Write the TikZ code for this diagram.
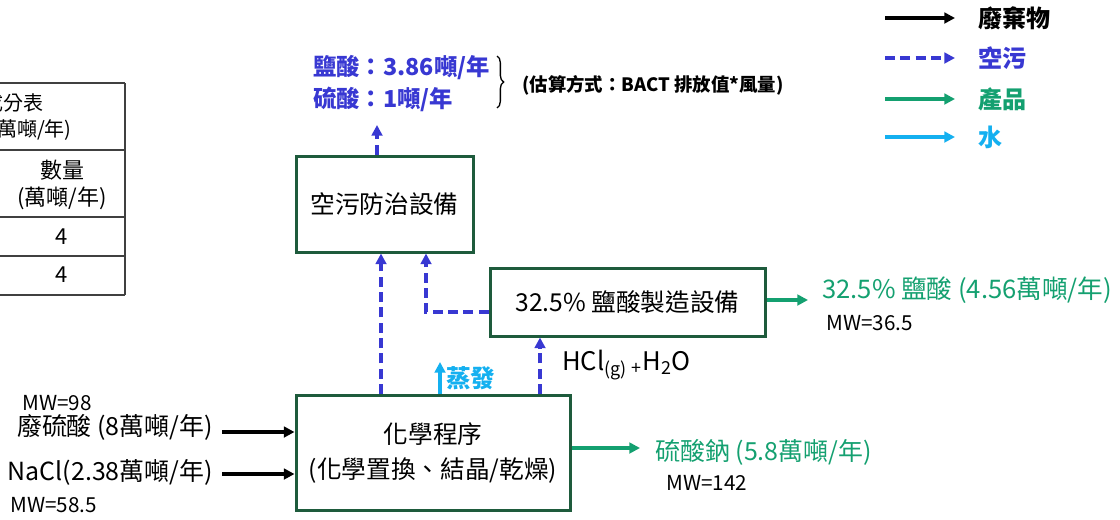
\documentclass[tikz,border=0pt]{standalone}
\usepackage{fontspec}
\setmainfont{Noto Sans CJK TC}
\usetikzlibrary{arrows.meta, positioning, decorations.pathreplacing}
\definecolor{BoxGreen}{HTML}{1E5B3C}
\definecolor{AirBlue}{HTML}{3838D2}
\definecolor{ProductGreen}{HTML}{14A070}
\definecolor{WaterCyan}{HTML}{14B0F0}
\definecolor{TableGray}{HTML}{404040}
\tikzset{
  % Box styles
  unitbox/.style={rectangle, draw=BoxGreen, line width=2.25pt, align=center, font=\fontsize{18.5}{26}\selectfont, inner sep=0pt},
  % Text styles
  flowtext/.style={font=\fontsize{18.7}{22}\selectfont, inner sep=0pt},
  bigflowtext/.style={font=\fontsize{19.2}{22}\selectfont, inner sep=0pt},
  mwtext/.style={font=\fontsize{15.5}{18}\selectfont, inner sep=0pt},
  emistext/.style={font=\fontsize{17.5}{24}\selectfont\bfseries, text=AirBlue, align=left, inner sep=0pt},
  legendtext/.style={font=\fontsize{18}{20}\selectfont\bfseries, anchor=west, inner sep=0pt},
  tabletext/.style={font=\fontsize{16.5}{20}\selectfont, inner sep=0pt},
  % Arrow styles
  wastearrow/.style={->, >={Triangle[length=8pt, width=8pt]}, line width=2.5pt, black},
  airarrow/.style={->, >={Triangle[length=8pt, width=8pt]}, line width=2.5pt, AirBlue, dash pattern=on 7.5pt off 4pt},
  productarrow/.style={wastearrow, ProductGreen},
  waterarrow/.style={wastearrow, WaterCyan}
}

\begin{document}
\begin{tikzpicture}[x=0.75pt, y=-0.75pt]
  \useasboundingbox (0,0) rectangle (1120,519);
  \clip (0,0) rectangle (1120,519);

  % Table (cut off at left)
  \foreach \ty in {83,150,217,256,295}
    \draw[TableGray, line width=1.2pt] (-20,\ty) -- (125,\ty);
  \draw[TableGray, line width=1.2pt] (125,83) -- (125,295);
  \node[tabletext, font=\fontsize{15}{18}\selectfont, anchor=east] (tabtitle) at (44,103) {成分表};
  \node[tabletext, font=\fontsize{15}{18}\selectfont, anchor=east] (tabunit) at (72,130) {(萬噸/年)};
  \node[tabletext, align=center] (tabhead) at (62,185) {數量\\(萬噸/年)};
  \node[tabletext] (tabrow1) at (62,237) {4};
  \node[tabletext] (tabrow2) at (62,275) {4};

  % Process units
  \node[unitbox, minimum width=132.75pt, minimum height=72pt] (airctrl) at (384.5,204) {空污防治設備};
  \node[unitbox, minimum width=206.25pt, minimum height=51pt] (hclplant) at (627.5,302) {32.5\% 鹽酸製造設備};
  \node[unitbox, minimum width=205.5pt, minimum height=86.25pt] (chemproc) at (433,453) {化學程序\\(化學置換、結晶/乾燥)};

  % Inputs
  \node[flowtext, anchor=east] (acidin) at (213,427) {廢硫酸 (8萬噸/年)};
  \node[mwtext, anchor=west] (acidmw) at (22,403) {MW=98};
  \node[flowtext, anchor=east] (saltin) at (213,472) {NaCl(2.38萬噸/年)};
  \node[mwtext, anchor=west] (saltmw) at (10,505) {MW=58.5};
  \coordinate (acidtail) at (222,432);
  \coordinate (salttail) at (222,474);
  \draw[wastearrow] (acidtail) -- (acidtail -| chemproc.west);
  \draw[wastearrow] (salttail) -- (salttail -| chemproc.west);

  % Outputs
  \coordinate (nasotip) at (640,448);
  \draw[productarrow] (nasotip -| chemproc.east) -- (nasotip);
  \node[flowtext, text=ProductGreen, anchor=west] (nasoout) at (655,452) {硫酸鈉 (5.8萬噸/年)};
  \node[mwtext, anchor=west] (nasomw) at (666,483) {MW=142};
  \coordinate (hcltip) at (808,300);
  \draw[productarrow] (hcltip -| hclplant.east) -- (hcltip);
  \node[bigflowtext, text=ProductGreen, anchor=west] (hclout) at (822,290) {32.5\% 鹽酸 (4.56萬噸/年)};
  \node[mwtext, anchor=west] (hclmw) at (826,323) {MW=36.5};

  % Emissions to air
  \coordinate (airtip) at (377,125);
  \draw[airarrow] (airtip |- airctrl.north) -- (airtip);
  \node[emistext, anchor=west] (emis) at (313,84) {鹽酸：3.86噸/年\\硫酸：1噸/年};
  \draw[decorate, decoration={brace, amplitude=5pt}, line width=1pt] (497,56) -- (497,108);
  \node[font=\fontsize{13.8}{16}\selectfont\bfseries, anchor=west, inner sep=0pt] (method) at (522,85) {(估算方式：BACT 排放值*風量)};

  % Air pollution flows
  \coordinate (chemvent) at (381,0);
  \draw[airarrow] (chemvent |- chemproc.north) -- (chemvent |- airctrl.south);
  \coordinate (hclvent) at (426,312);
  \draw[airarrow] (hclvent -| hclplant.west) -- (hclvent) -- (hclvent |- airctrl.south);
  \coordinate (hclfeed) at (540,0);
  \draw[airarrow] (hclfeed |- chemproc.north) -- (hclfeed |- hclplant.south);
  \node[bigflowtext, anchor=west] (hclgas) at (562,365) {HCl\textsubscript{(g)}\,\textsubscript{+}H\textsubscript{2}O};

  % Evaporation
  \coordinate (evaptip) at (440,362);
  \draw[waterarrow] (evaptip |- chemproc.north) -- (evaptip);
  \node[flowtext, font=\fontsize{18.4}{20}\selectfont\bfseries, text=WaterCyan, anchor=west] (evap) at (446,378) {蒸發};

  % Legend
  \foreach \ly/\lstyle/\ltext/\lcol [count=\i] in {18/wastearrow/廢棄物/black, 58/airarrow/空污/AirBlue, 99/productarrow/產品/ProductGreen, 137/waterarrow/水/WaterCyan} {
    \coordinate (legstart\i) at (885,\ly);
    \coordinate (legend\i) at (955,\ly);
    \draw[\lstyle] (legstart\i) -- (legend\i);
    \node[legendtext, text=\lcol] (legtext\i) at (978,\ly) {\ltext};
  }
\end{tikzpicture}
\end{document}
